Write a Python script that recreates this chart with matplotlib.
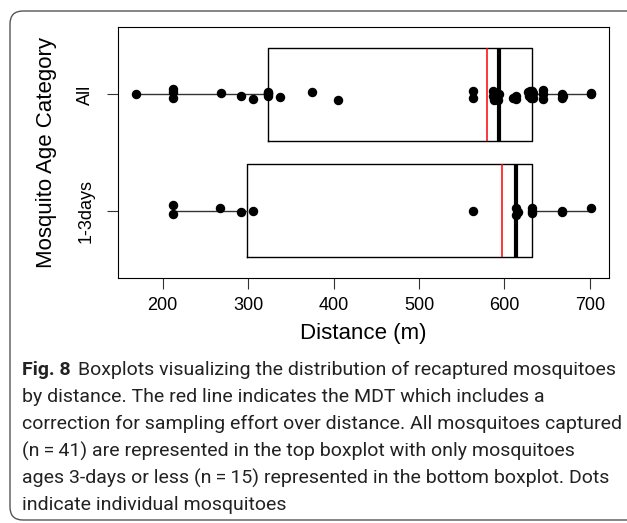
import matplotlib
matplotlib.use("Agg")
import matplotlib.pyplot as plt
from matplotlib.patches import FancyBboxPatch
from matplotlib.transforms import IdentityTransform

# data
categories = ["1-3days", "All"]
young_dist = [212, 212, 267, 292, 306, 563, 614, 614, 616, 632, 632, 632, 667, 667, 701]
young_jitter = [0.049, -0.032, 0.026, -0.014, 0.0, 0.0, 0.02, -0.04, -0.01,
                0.026, -0.02, 0.0, 0.0, -0.01, 0.025]
all_dist = [169, 212, 212, 212, 268, 292, 306, 323, 323, 323, 323, 337, 375, 405,
            563, 563, 587, 587, 588, 592, 594, 610, 613, 614, 628, 629, 630, 631,
            632, 632, 632, 633, 633, 645, 645, 645, 667, 667, 668, 701, 701]
all_jitter = [0.0, 0.05, 0.02, -0.03, 0.01, -0.01, -0.04, 0.02, -0.01, 0.0, 0.01,
              -0.02, 0.02, -0.05, 0.025, -0.03, 0.03, -0.01, -0.045, -0.045, 0.0,
              -0.03, -0.01, -0.04, 0.02, -0.01, 0.03, -0.03, 0.0, 0.03, -0.02,
              0.01, -0.03, 0.04, 0.0, -0.04, 0.0, -0.03, -0.01, 0.0, 0.01]
mdt = [597, 579]
xticks = [200, 300, 400, 500, 600, 700]

caption_bold = "Fig. 8"
caption_lines = [
    "Boxplots visualizing the distribution of recaptured mosquitoes",
    "by distance. The red line indicates the MDT which includes a",
    "correction for sampling effort over distance. All mosquitoes captured",
    "(n\u2009=\u200941) are represented in the top boxplot with only mosquitoes",
    "ages 3-days or less (n\u2009=\u200915) represented in the bottom boxplot. Dots",
    "indicate individual mosquitoes",
]

plt.rcParams['font.family'] = ['Liberation Sans', 'DejaVu Sans']

W, H = 627, 523
fig = plt.figure(figsize=(W / 100, H / 100), dpi=100)

# rounded frame around figure + caption
frame = FancyBboxPatch((10, 3), 660, 509, boxstyle="round,pad=0,rounding_size=13",
                       transform=IdentityTransform(), fill=False,
                       edgecolor="#555555", linewidth=1.0)
fig.patches.append(frame)

ax = fig.add_axes([118 / W, 1 - 278 / H, 491 / W, 251 / H])

positions = [1, 2]
ax.boxplot([young_dist, all_dist], positions=positions, orientation='horizontal',
           widths=0.8, showcaps=False, showfliers=False,
           boxprops=dict(color='black', linewidth=1.0),
           whiskerprops=dict(color='#333333', linewidth=1.0),
           medianprops=dict(color='black', linewidth=3.0))

# MDT lines
ax.vlines(mdt, [p - 0.4 for p in positions], [p + 0.4 for p in positions],
          colors='red', linewidth=1.1, zorder=4)

# individual mosquitoes
ax.plot(young_dist, [1 + j for j in young_jitter], 'o', color='black', ms=5.8, zorder=3)
ax.plot(all_dist, [2 + j for j in all_jitter], 'o', color='black', ms=5.8, zorder=3)

ax.set_xlim(147.7, 722.3)
ax.set_ylim(0.42, 2.58)
ax.set_xticks(xticks)
ax.set_xticklabels([str(t) for t in xticks])
ax.set_yticks(positions)
ax.set_yticklabels(categories, rotation=90, va='center')
ax.tick_params(length=8, width=0.8, labelsize=13, color='#333333')
ax.tick_params(axis='x', pad=6)
ax.tick_params(axis='y', pad=9)
for s in ax.spines.values():
    s.set_linewidth(0.8)

ax.set_xlabel("Distance (m)", fontsize=16)
ax.xaxis.set_label_coords(0.5, -0.18)
ax.set_ylabel("Mosquito Age Category", fontsize=16)
ax.yaxis.set_label_coords(-0.125, 0.5)

# caption: first line should run from x=22 to about x=613
cap_font = ['Roboto', 'DejaVu Sans']
x0 = 22 / W
y_first = 370
gap = 27
size = 14.5
r = fig.canvas.get_renderer()
t = fig.text(x0, 1 - y_first / H, caption_bold, fontsize=size, weight='bold',
             family=cap_font, color='#222222', va='center')
bb = t.get_window_extent(renderer=r)
first = fig.text((bb.x1 + 8) / W, 1 - y_first / H, caption_lines[0], fontsize=size,
                 family=cap_font, color='#222222', va='center')
fb = first.get_window_extent(renderer=r)
scale = (613 - 22) / (fb.x1 - bb.x0)
size = size * scale
t.set_fontsize(size)
bb = t.get_window_extent(renderer=r)
first.set_fontsize(size)
first.set_x((bb.x1 + 7) / W)
for i, line in enumerate(caption_lines[1:], start=1):
    fig.text(x0, 1 - (y_first + i * gap) / H, line, fontsize=size,
             family=cap_font, color='#222222', va='center')

fig.savefig("out.png", dpi=100)
